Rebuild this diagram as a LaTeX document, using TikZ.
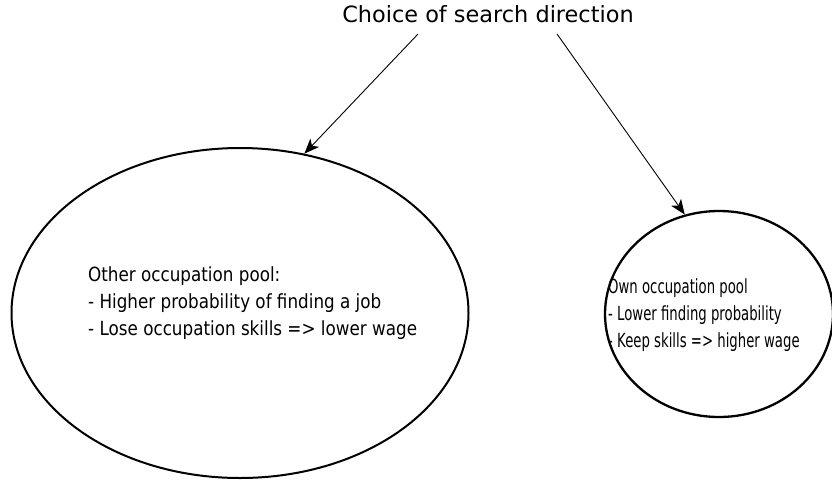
\documentclass[tikz,border=0pt]{standalone}
\usepackage{fontspec}
\usetikzlibrary{shapes.geometric, arrows.meta}
\newfontfamily\titlefont{DejaVu Sans}
\newfontfamily\otherfont[FakeStretch=0.86]{DejaVu Sans}
\newfontfamily\ownfont[FakeStretch=0.68]{DejaVu Sans}

\begin{document}
\begin{tikzpicture}[
    x=1pt, y=-1pt,
    pool/.style={ellipse, draw, line width=2pt, inner sep=0pt},
    pooltext/.style={anchor=north west, inner sep=0pt, align=left},
    arrow/.style={-{Stealth[length=15pt, width=12pt, inset=4pt]}, line width=0.9pt}
]
    \useasboundingbox (0,0) rectangle (832,485);

    \node[font=\titlefont\fontsize{22.4}{27}\selectfont, inner sep=0pt, anchor=base] (choice) at (488,22) {Choice of search direction};

    \node[pool, minimum width=457pt, minimum height=330pt] (other) at (240,313) {};
    \node[pool, line width=2.3pt, minimum width=228pt, minimum height=206pt] (own) at (719,314) {};

    \node[pooltext, font=\otherfont\fontsize{19.5}{27}\selectfont] (othertext) at (88,266) {Other occupation pool:\\- Higher probability of finding a job\\- Lose occupation skills => lower wage};
    \node[pooltext, font=\ownfont\fontsize{19.5}{27}\selectfont] (owntext) at (608,278) {Own occupation pool\\- Lower finding probability\\- Keep skills => higher wage};

    \draw[arrow] ([xshift=-70pt, yshift=-12pt]choice.base) -- (other.68);
    \draw[arrow] ([xshift=69pt, yshift=-12pt]choice.base) -- (own.109);
\end{tikzpicture}
\end{document}
